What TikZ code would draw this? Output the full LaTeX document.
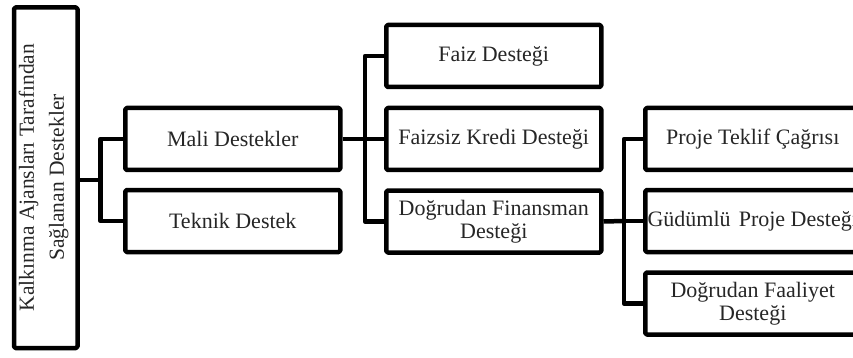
\documentclass[tikz,border=0pt]{standalone}
\usepackage{fontspec}
\setmainfont{Liberation Serif}
\begin{document}
\begin{tikzpicture}[x=1pt,y=-1pt,
  box/.style={draw=black, line width=4.5pt, rounded corners=1.5pt, line join=round,
    minimum width=215pt, minimum height=62pt, inner sep=0pt, align=center,
    font=\fontsize{22}{23}\selectfont, text=black!85},
  conn/.style={draw=black, line width=4.5pt, line join=round}]
\useasboundingbox (0,0) rectangle (853,358);
\clip (0,0) rectangle (853,358);
\node[box, minimum width=63.5pt, minimum height=340.5pt] (root) at (45.75,177.75) {};
\node[rotate=90, align=center, font=\fontsize{21.5}{30}\selectfont, text=black!85, inner sep=0pt] (roottext) at (43.5,177.5)
  {Kalkınma Ajansları Tarafından\\Sağlanan Destekler};
\node[box] (mali) at (232.75,139) {Mali Destekler};
\node[box] (teknik) at (232.75,221) {Teknik Destek};
\node[box] (faiz) at (493.75,56) {Faiz Desteği};
\node[box] (faizsiz) at (493.75,139) {Faizsiz Kredi Desteği};
\node[box] (df) at (493.75,221.5) {Doğrudan Finansman\\Desteği};
\node[box] (ptc) at (752.75,139) {Proje Teklif Çağrısı};
\node[box] (gud) at (752.75,221) {Güdümlü\hspace{0.12em} Proje Desteği};
\node[box] (dfa) at (752.75,303.5) {Doğrudan Faaliyet\\Desteği};
\coordinate (t1) at (100.5,180);
\coordinate (t2) at (365,139);
\coordinate (t3) at (624,221);
\draw[conn] (root.east |- t1) -- (t1);
\draw[conn] (mali.west) -| (t1) |- (teknik.west);
\draw[conn] (mali.east) -- (t2);
\draw[conn] (faiz.west) -| (t2) |- (df.west);
\draw[conn] (t2) -- (faizsiz.west);
\draw[conn] (df.east) -- (t3);
\draw[conn] (ptc.west) -| (t3) |- (dfa.west);
\draw[conn] (t3) -- (gud.west);
\end{tikzpicture}
\end{document}
